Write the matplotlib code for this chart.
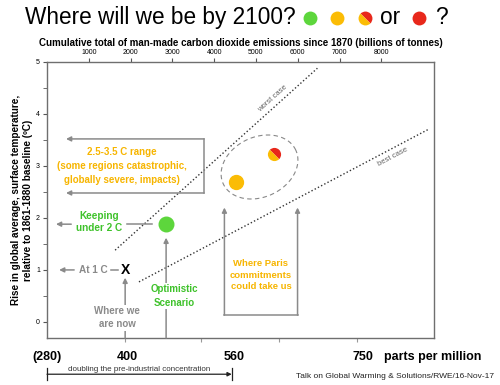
import numpy as np
import matplotlib.pyplot as plt
from matplotlib.markers import MarkerStyle
from matplotlib.transforms import Affine2D, blended_transform_factory

plt.rcParams['font.family'] = ['Liberation Sans', 'DejaVu Sans']

# colours
GREEN = '#5dd63c'
ORANGE = '#fbbc05'
RED = '#e8281b'
GREY = '#8a8a8a'
TXT_GREEN = '#3fc22b'
TXT_ORANGE = '#f7b500'

# data (emissions in billions of tonnes, temperature rise in C)
green_x, green_y = 2850, 1.88
orange_x, orange_y = 4530, 2.69
mixed_x, mixed_y = 5420, 3.23
now_x, now_y = 1870, 1.0
worst_x = [1630, 6470]
worst_y = [1.38, 4.88]
best_x = [2200, 9140]
best_y = [0.77, 3.71]
top_ticks = [1000, 2000, 3000, 4000, 5000, 6000, 7000, 8000]
bottom_ticks = [1870, 3690, 5560, 7410]
ppm_labels = ['(280)', '400', '560', '750']
ppm_pos = [0, 1920, 4480, 7550]

xmin, xmax = 0, 9260
ymin, ymax = -0.31, 5.0

fig = plt.figure(figsize=(5, 3.85), dpi=100)
ax = fig.add_axes([0.094, 0.122, 0.774, 0.717])
ax.set_xlim(xmin, xmax)
ax.set_ylim(ymin, ymax)
for s in ax.spines.values():
    s.set_color('#6f6f6f')
    s.set_linewidth(1.0)

# ticks
ax.set_yticks([0, 1, 2, 3, 4, 5])
ax.set_yticks(np.arange(0.5, 5, 1), minor=True)
ax.tick_params(axis='y', labelsize=5, length=3, color='#555', pad=2)
ax.tick_params(axis='y', which='minor', length=3, color='#555')
ax.xaxis.tick_top()
ax.set_xticks(top_ticks)
ax.tick_params(axis='x', labelsize=5, length=3, color='#555', pad=1)
sec = ax.secondary_xaxis('bottom')
sec.set_xticks(bottom_ticks)
sec.set_xticklabels([])
sec.tick_params(length=3, color='#999')
sec.spines['bottom'].set_visible(False)
ax.set_ylabel('Rise in global average, surface temperature,\nrelative to 1861-1880 baseline (ºC)',
              fontsize=7.2, fontweight='bold', labelpad=2, linespacing=1.3)

# scenario lines
ax.plot(worst_x, worst_y, ls=(0, (1, 1.6)), color='#333', lw=1.0)
ax.plot(best_x, best_y, ls=(0, (1, 1.6)), color='#333', lw=1.0)
ax.text(5400, 4.3, 'worst case', rotation=42, fontsize=5.5, color='#666', ha='center', va='center')
ax.text(8270, 3.17, 'best case', rotation=28, fontsize=5.5, color='#666', ha='center', va='center')

# dashed ellipse round the Paris points
pxx = 0.774 * 500 / (xmax - xmin)
pxy = 0.717 * 385 / (ymax - ymin)
t = np.linspace(0, 2 * np.pi, 200)
a, b, th = 40, 30, np.radians(25)
ex = 5085 + (a * np.cos(t) * np.cos(th) - b * np.sin(t) * np.sin(th)) / pxx
ey = 2.98 + (a * np.cos(t) * np.sin(th) + b * np.sin(t) * np.cos(th)) / pxy
ax.plot(ex, ey, ls=(0, (4, 3)), color='#888', lw=0.8)

# points
ax.scatter([green_x], [green_y], s=110, color=GREEN, zorder=5)
ax.scatter([orange_x], [orange_y], s=100, color=ORANGE, zorder=5)
half = MarkerStyle('o', fillstyle='top', transform=Affine2D().rotate_deg(-45))
ax.plot([mixed_x], [mixed_y], marker=half, ms=9.5, mfc=RED, mfcalt=ORANGE, mec='none', zorder=5)
ax.text(now_x, now_y, 'X', fontsize=10, fontweight='bold', ha='center', va='center')

arrow = dict(arrowstyle='-|>', color=GREY, lw=1.1, mutation_scale=7, shrinkA=0, shrinkB=0)

# 2.5-3.5 C range box
ax.plot([3760, 3760], [3.52, 2.48], color=GREY, lw=1.1)
ax.annotate('', xy=(455, 3.52), xytext=(3760, 3.52), arrowprops=arrow)
ax.annotate('', xy=(455, 2.48), xytext=(3760, 2.48), arrowprops=arrow)
ax.text(1800, 3.0, '2.5-3.5 C range\n(some regions catastrophic,\nglobally severe, impacts)',
        color=TXT_ORANGE, fontsize=7, fontweight='bold', ha='center', va='center', linespacing=1.45)

# keeping under 2 C
ax.text(1250, 1.92, 'Keeping\nunder 2 C', color=TXT_GREEN, fontsize=7.2, fontweight='bold',
        ha='center', va='center', linespacing=1.3)
ax.annotate('', xy=(215, 1.88), xytext=(580, 1.88), arrowprops=arrow)
ax.plot([1920, 2520], [1.88, 1.88], color=GREY, lw=1.1)

# at 1 C
ax.text(1100, 1.0, 'At 1 C', color=GREY, fontsize=7.2, fontweight='bold', ha='center', va='center')
ax.annotate('', xy=(290, 1.0), xytext=(650, 1.0), arrowprops=arrow)
ax.plot([1530, 1700], [1.0, 1.0], color=GREY, lw=1.1)

# where we are now
ax.annotate('', xy=(now_x, 0.85), xytext=(now_x, ymin), arrowprops=arrow)
ax.text(1680, 0.08, 'Where we\nare now', color=GREY, fontsize=7, fontweight='bold', ha='center',
        va='center', linespacing=1.4, bbox=dict(fc='white', ec='none', pad=1))

# optimistic scenario
ax.annotate('', xy=(green_x, 1.62), xytext=(green_x, ymin), arrowprops=arrow)
ax.text(3040, 0.5, 'Optimistic\nScenario', color=TXT_GREEN, fontsize=7, fontweight='bold',
        ha='center', va='center', linespacing=1.4, bbox=dict(fc='white', ec='none', pad=1))

# where Paris commitments could take us
ax.plot([4245, 5995], [0.13, 0.13], color=GREY, lw=1.1)
ax.annotate('', xy=(4245, 2.2), xytext=(4245, 0.13), arrowprops=arrow)
ax.annotate('', xy=(5995, 2.2), xytext=(5995, 0.13), arrowprops=arrow)
ax.text(5120, 0.9, 'Where Paris\ncommitments\ncould take us', color=TXT_ORANGE, fontsize=6.8,
        fontweight='bold', ha='center', va='center', linespacing=1.35)

# ppm labels under the axis
trans = blended_transform_factory(ax.transData, fig.transFigure)
for lab, pos in zip(ppm_labels, ppm_pos):
    ax.text(pos, 0.073, lab, transform=trans, fontsize=9, fontweight='bold', ha='center', va='center')
fig.text(0.865, 0.073, 'parts per million', fontsize=9, fontweight='bold', ha='center', va='center')

# doubling bracket
ax.annotate('', xy=(4420, 0.028), xytext=(0, 0.028), xycoords=trans, textcoords=trans,
            arrowprops=dict(arrowstyle='-|>', color='#222', lw=0.9, mutation_scale=6,
                            shrinkA=0, shrinkB=0), annotation_clip=False)
for xp in [0, 4420]:
    ax.plot([xp, xp], [0.012, 0.044], transform=trans, color='#222', lw=0.9, clip_on=False)
ax.text(2210, 0.04, 'doubling the pre-industrial concentration', transform=trans, fontsize=5.8,
        ha='center', va='center', color='#333')
fig.text(0.988, 0.023, 'Talk on Global Warming & Solutions/RWE/16-Nov-17', fontsize=6,
         ha='right', va='center', color='#222')

# headings
fig.text(0.05, 0.955, 'Where will we be by 2100?', fontsize=16.3, ha='left', va='center')
fig.text(0.78, 0.955, 'or', fontsize=16.3, ha='center', va='center')
fig.text(0.882, 0.955, '?', fontsize=16.3, ha='center', va='center')
title_dots = [(0.62, GREEN), (0.674, ORANGE), (0.838, RED)]
for xf, c in title_dots:
    fig.lines.append(plt.Line2D([xf], [0.952], marker='o', ms=10, color=c, mec='none',
                                transform=fig.transFigure))
fig.lines.append(plt.Line2D([0.73], [0.952], marker=half, ms=10, mfc=RED, mfcalt=ORANGE,
                            mec='none', transform=fig.transFigure))
fig.text(0.482, 0.888, 'Cumulative total of man-made carbon dioxide emissions since 1870 (billions of tonnes)',
         fontsize=7.05, fontweight='bold', ha='center', va='center')

fig.savefig('out.png', dpi=100)
